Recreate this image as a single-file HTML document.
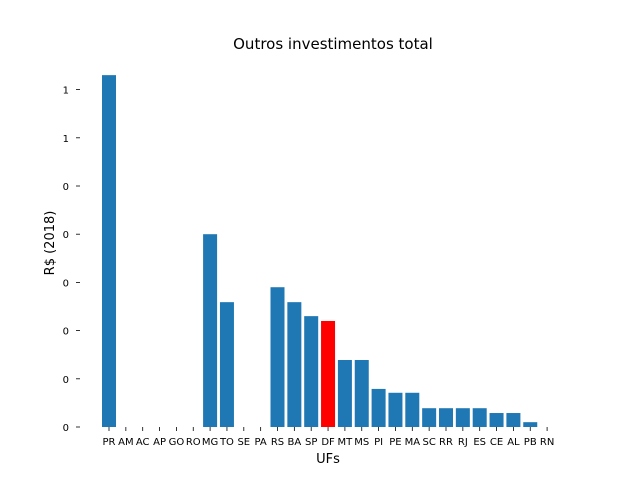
<!DOCTYPE html>
<html><head><meta charset="utf-8"><style>
body{margin:0;background:#fff;font-family:"Liberation Sans","DejaVu Sans",sans-serif;}
</style></head><body>
<svg id="chart" width="640" height="480" xmlns="http://www.w3.org/2000/svg">
<rect width="640" height="480" fill="#fff"/>
<text x="333" y="49" text-anchor="middle" font-size="15" font-family="DejaVu Sans, sans-serif">Outros investimentos total</text>
<text x="328" y="463" text-anchor="middle" font-size="13" font-family="DejaVu Sans, sans-serif">UFs</text>
<text transform="translate(54,243) rotate(-90)" text-anchor="middle" font-size="13" font-family="DejaVu Sans, sans-serif">R$ (2018)</text>
<g id="bars"></g><g id="xticks"></g><g id="yticks"></g>
</svg>
<script>
const categories=["PR","AM","AC","AP","GO","RO","MG","TO","SE","PA","RS","BA","SP","DF","MT","MS","PI","PE","MA","SC","RR","RJ","ES","CE","AL","PB","RN"];
const values=[7.30,0,0,0,0,0,4.0,2.59,0,0,2.90,2.59,2.30,2.20,1.39,1.39,0.79,0.71,0.71,0.39,0.39,0.39,0.39,0.29,0.29,0.10,0];
const yTickValues=[0,1,2,3,4,5,6,7];
const yTickLabels=["0","0","0","0","0","0","1","1"];
const highlight="DF";
const x0=109,step=16.85,bw=14,yBase=427,unit=48.2;
const xs=i=>x0+i*step;
const ys=v=>yBase-v*unit;
const NS="http://www.w3.org/2000/svg";
const bars=document.getElementById('bars'),xt=document.getElementById('xticks'),yt=document.getElementById('yticks');
categories.forEach((c,i)=>{
  const r=document.createElementNS(NS,'rect');
  
  
  r.setAttribute('x',xs(i)-bw/2);r.setAttribute('y',ys(values[i]));
  r.setAttribute('width',bw);r.setAttribute('height',yBase-ys(values[i]));
  r.setAttribute('fill',c===highlight?'#ff0000':'#1f77b4');
  bars.appendChild(r);
  const l=document.createElementNS(NS,'line');
  
  
  l.setAttribute('x1',xs(i));l.setAttribute('x2',xs(i));l.setAttribute('y1',yBase);l.setAttribute('y2',yBase+4);
  l.setAttribute('stroke','#000');l.setAttribute('stroke-width','0.8');
  xt.appendChild(l);
  const t=document.createElementNS(NS,'text');
  
  
  t.setAttribute('x',xs(i));t.setAttribute('y',yBase+18);t.setAttribute('text-anchor','middle');
  t.setAttribute('font-size','10');t.setAttribute('font-family','DejaVu Sans, sans-serif');
  t.textContent=c;xt.appendChild(t);
});
yTickValues.forEach((v,i)=>{
  const l=document.createElementNS(NS,'line');
  
  
  l.setAttribute('x1',76);l.setAttribute('x2',80);l.setAttribute('y1',ys(v));l.setAttribute('y2',ys(v));
  l.setAttribute('stroke','#000');l.setAttribute('stroke-width','0.8');
  yt.appendChild(l);
  const t=document.createElementNS(NS,'text');
  
  
  t.setAttribute('x',69);t.setAttribute('y',ys(v)+4);t.setAttribute('text-anchor','end');
  t.setAttribute('font-size','10');t.setAttribute('font-family','DejaVu Sans, sans-serif');
  t.textContent=yTickLabels[i];yt.appendChild(t);
});
</script>
</body></html>
